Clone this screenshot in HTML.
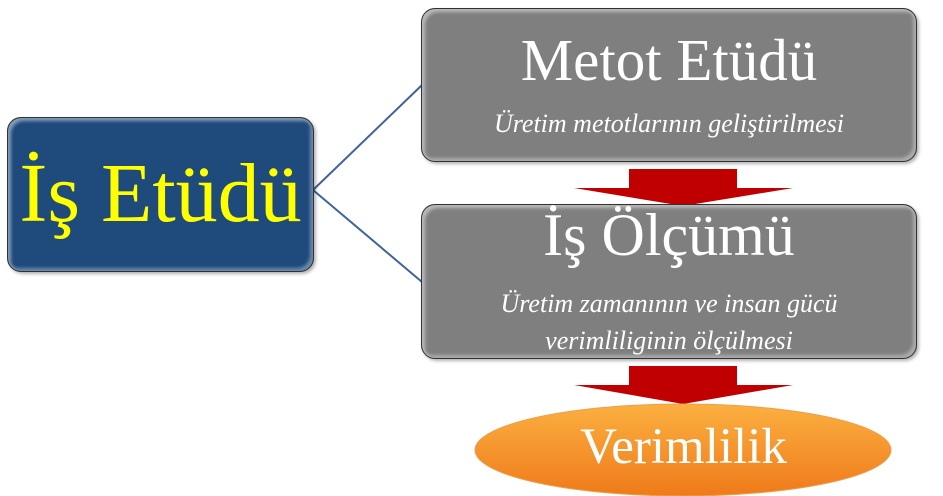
<!DOCTYPE html>
<html><head><meta charset="utf-8"><style>
body{margin:0;width:943px;height:496px;background:#fff;overflow:hidden;position:relative;font-family:"Liberation Serif",serif}
.b{position:absolute;border:1.5px solid #333;border-radius:14px;box-sizing:border-box;box-shadow:inset 3px 3px 3px rgba(255,255,255,.45),inset -3px -3px 3px rgba(255,255,255,.35),2px 2px 3px rgba(0,0,0,.3)}
.t{position:absolute;text-align:center;color:#fff;white-space:nowrap;line-height:1}
.i{font-style:italic;font-size:26px;letter-spacing:0px}
</style></head><body>
<svg width="943" height="496" style="position:absolute;left:0;top:0">
<line x1="313" y1="190" x2="422" y2="85" stroke="#3e6499" stroke-width="2"/>
<line x1="313" y1="190" x2="422" y2="282" stroke="#3e6499" stroke-width="2"/>
<polygon points="629,169 737,169 737,188 793,188 683,206 574,188 629,188" fill="#c00000"/>
<polygon points="629,366 737,366 737,385 793,385 683,404 574,385 629,385" fill="#c00000"/>
<defs><linearGradient id="g" x1="0" y1="0" x2="0" y2="1"><stop offset="0" stop-color="#fbb040"/><stop offset="1" stop-color="#ef7a1a"/></linearGradient></defs>
<ellipse cx="683" cy="450" rx="208" ry="46" fill="url(#g)" stroke="#e9a050" stroke-width="1"/>
</svg>
<div class="b" style="left:7px;top:117px;width:307px;height:155px;background:#1f4a7c"></div>
<div class="t" style="left:7px;width:307px;top:152px;font-size:84px;color:#ffff00">İş Etüdü</div>
<div class="b" style="left:421px;top:8px;width:496px;height:154px;background:#7f7f7f"></div>
<div class="t" style="left:421px;width:496px;top:31px;font-size:59px">Metot Etüdü</div>
<div class="t i" style="left:421px;width:496px;top:111px">Üretim metotlarının geliştirilmesi</div>
<div class="b" style="left:421px;top:204px;width:496px;height:155px;background:#7f7f7f"></div>
<div class="t" style="left:421px;width:496px;top:205px;font-size:60px">İş Ölçümü</div>
<div class="t i" style="left:421px;width:496px;top:291px">Üretim zamanının ve insan gücü</div>
<div class="t i" style="left:421px;width:496px;top:328px">verimliliginin ölçülmesi</div>
<div class="t" style="left:475px;width:417px;top:422px;font-size:51px">Verimlilik</div>
</body></html>
